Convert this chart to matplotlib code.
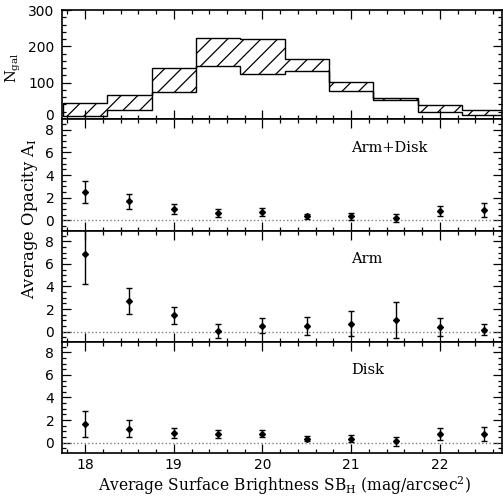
import numpy as np
import matplotlib
matplotlib.use("Agg")
import matplotlib.pyplot as plt
from matplotlib.ticker import MultipleLocator
from matplotlib.transforms import ScaledTranslation

plt.rcParams["mathtext.fontset"] = "dejavuserif"
plt.rcParams["hatch.linewidth"] = 0.9

# histogram of galaxy counts (bins of 0.5 mag)
bin_edges = [17.75, 18.25, 18.75, 19.25, 19.75, 20.25, 20.75, 21.25, 21.75, 22.25, 22.75]
n_upper = [43, 67, 139, 223, 219, 166, 103, 59, 39, 24]
n_lower = [8, 25, 73, 146, 123, 131, 78, 52, 18, 11]
n_ticks = [0, 100, 200, 300]

# average opacity per bin
sb = [18.0, 18.5, 19.0, 19.5, 20.0, 20.5, 21.0, 21.5, 22.0, 22.5]
both_val = [2.55, 1.70, 1.02, 0.68, 0.74, 0.36, 0.38, 0.20, 0.84, 0.92]
both_err = [0.97, 0.67, 0.44, 0.35, 0.33, 0.22, 0.30, 0.33, 0.48, 0.65]
arm_val = [6.88, 2.70, 1.44, 0.06, 0.52, 0.50, 0.70, 1.04, 0.40, 0.16]
arm_err = [2.70, 1.13, 0.78, 0.60, 0.65, 0.78, 1.10, 1.60, 0.80, 0.47]
disk_val = [1.64, 1.24, 0.85, 0.78, 0.80, 0.32, 0.36, 0.10, 0.76, 0.74]
disk_err = [1.15, 0.72, 0.41, 0.37, 0.30, 0.22, 0.30, 0.37, 0.50, 0.63]

panels = [("Arm+Disk", both_val, both_err),
          ("Arm", arm_val, arm_err),
          ("Disk", disk_val, disk_err)]

W, H = 503, 501
fig = plt.figure(figsize=(W / 100, H / 100), dpi=100)

left = 62 / W
width = 440 / W
# pixel rows (top, bottom) of each panel
rows = [(10, 119), (119, 230.7), (230.7, 341.7), (341.7, 452.7)]
axes = []
for top, bot in rows:
    ax = fig.add_axes([left, 1 - bot / H, width, (bot - top) / H])
    axes.append(ax)

for ax in axes:
    ax.set_xlim(17.74, 22.70)
    ax.xaxis.set_major_locator(MultipleLocator(1))
    ax.xaxis.set_minor_locator(MultipleLocator(0.2))
    ax.tick_params(which="both", direction="in", top=True, right=True,
                   labelsize=10, width=0.9)
    ax.tick_params(which="major", length=6.5)
    ax.tick_params(which="minor", length=3.2)
    ax.tick_params(axis="y", pad=5.5)
    for s in ax.spines.values():
        s.set_linewidth(1.2)
    if ax is not axes[-1]:
        ax.tick_params(labelbottom=False)

# top panel: hatched region between the two histograms
ax0 = axes[0]
ax0.stairs(n_upper, bin_edges, baseline=n_lower, fill=False, hatch="//",
           edgecolor="black", linewidth=1.0)
ax0.set_ylim(0, 300)
ax0.set_yticks(n_ticks)
ax0.yaxis.set_minor_locator(MultipleLocator(20))
# nudge the "0" up a few pixels so it does not run into the "8" below it
zero_lab = ax0.yaxis.get_major_ticks()[0].label1
zero_lab.set_transform(zero_lab.get_transform()
                       + ScaledTranslation(0, 3 / 72, fig.dpi_scale_trans))

for ax, (name, val, err) in zip(axes[1:], panels):
    ax.axhline(0, color="gray", linestyle=":", linewidth=1.0)
    ax.errorbar(sb, val, yerr=err, fmt="D", color="black", ms=3.0,
                elinewidth=1.0, capsize=2.0, capthick=1.0)
    ax.set_ylim(-0.9, 8.95)
    ax.yaxis.set_major_locator(MultipleLocator(2))
    ax.yaxis.set_minor_locator(MultipleLocator(0.5))
    ax.text(21.0, 6.4, name, ha="left", va="center",
            family="DejaVu Serif", fontsize=10.5)

for ax in axes:
    for lab in ax.get_xticklabels() + ax.get_yticklabels():
        lab.set_family("DejaVu Sans")

fig.text(13 / W, 1 - 68 / H, r"N$_{\rm gal}$", rotation=90, ha="center",
         va="center", family="DejaVu Serif", fontsize=10.5)
fig.text(30 / W, 1 - 219 / H, r"Average Opacity A$_{\rm I}$", rotation=90,
         ha="center", va="center", family="DejaVu Serif", fontsize=11.8)
fig.text(285 / W, 1 - 486 / H,
         r"Average Surface Brightness SB$_{\rm H}$ (mag/arcsec$^2$)",
         ha="center", va="center", family="DejaVu Serif", fontsize=11.2)

fig.savefig("out.png", dpi=100)
